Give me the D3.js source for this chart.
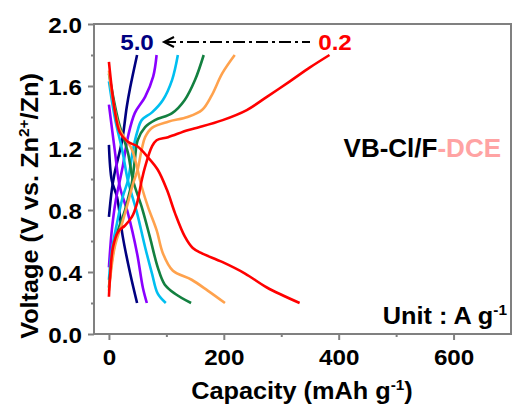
<!DOCTYPE html>
<html>
<head>
<meta charset="utf-8">
<script src="https://cdn.jsdelivr.net/npm/d3@7"></script>
<style>
body { margin: 0; background: #fff; }
text { font-family: "Liberation Sans", Arial, sans-serif; font-weight: bold; }
</style>
</head>
<body>
<svg id="chart" width="513" height="406"></svg>
<script>

// current densities (A g-1) and their colours
const rates = ["0.2", "0.5", "1", "2", "3", "5.0"]
const colors = ["#ff0000", "#ffa24d", "#138040", "#00bff0", "#8a00ff", "#000080"]

// [capacity mAh g-1, voltage V]
const charge02 = [[0,0.24],[2,0.37],[7,0.56],[16,0.66],[28,0.70],[40,0.755],[49,0.845],[57,0.99],[63,1.08],[75,1.21],[83,1.25],[103,1.27],[137,1.315],[158,1.335],[198,1.38],[240,1.445],[275,1.53],[315,1.63],[350,1.72],[384,1.80]]
const discharge02 = [[0,1.755],[10,1.445],[19,1.30],[33,1.24],[50,1.21],[68,1.14],[85,1.06],[101,0.93],[115,0.78],[132,0.63],[146,0.555],[162,0.52],[197,0.465],[237,0.39],[275,0.30],[332,0.20]]

const charge05 = [[0,0.28],[10,0.56],[23,0.715],[33,0.845],[42,0.97],[50,1.06],[57,1.19],[63,1.27],[75,1.33],[103,1.37],[137,1.40],[162,1.445],[179,1.54],[197,1.68],[219,1.80]]
const discharge05 = [[0,1.70],[7,1.51],[19,1.32],[40,1.19],[57,0.95],[68,0.82],[83,0.67],[94,0.52],[111,0.41],[144,0.35],[172,0.28],[202,0.20]]

const charge1 = [[0,0.30],[7,0.52],[16,0.67],[28,0.80],[37,0.93],[40,0.975],[45,1.12],[50,1.25],[63,1.335],[80,1.38],[110,1.425],[132,1.51],[150,1.64],[165,1.80]]
const discharge1 = [[0,1.68],[16,1.38],[33,1.17],[42,0.99],[57,0.82],[71,0.63],[85,0.43],[97,0.32],[115,0.26],[143,0.20]]

const charge2 = [[0,0.35],[5,0.54],[14,0.715],[24,0.885],[33,0.99],[42,1.19],[49,1.30],[57,1.38],[75,1.43],[94,1.51],[110,1.64],[120,1.80]]
const discharge2 = [[0,1.63],[10,1.40],[24,1.17],[33,0.99],[49,0.78],[63,0.56],[75,0.39],[85,0.26],[99,0.20]]

const charge3 = [[0,0.43],[5,0.67],[12,0.865],[19,0.99],[24,1.08],[33,1.27],[45,1.425],[63,1.53],[77,1.66],[83,1.80]]
const discharge3 = [[0,1.48],[10,1.19],[19,0.95],[33,0.78],[49,0.52],[59,0.30],[66,0.20]]

const charge5 = [[0,0.755],[5,0.93],[10,1.04],[23,1.25],[31,1.465],[37,1.59],[49,1.80]]
const discharge5 = [[0,1.22],[5,0.99],[14,0.885],[24,0.63],[37,0.39],[49,0.20]]

const xTicks = [0, 200, 400, 600]
const xMinor = [100, 300, 500]
const yTicks = [0, 0.4, 0.8, 1.2, 1.6, 2.0]
const yMinor = [0.2, 0.6, 1.0, 1.4, 1.8]

const curves = [
	[charge02, discharge02],
	[charge05, discharge05],
	[charge1, discharge1],
	[charge2, discharge2],
	[charge3, discharge3],
	[charge5, discharge5]
]

const stretch = 1.1
const frameColor = "#808080"

let svg = d3.select('#chart')

let plotLeft = 94, plotRight = 511, plotTop = 24, plotBottom = 334

let x = d3.scaleLinear().domain([-26, 700]).range([plotLeft, plotRight])
let y = d3.scaleLinear().domain([0, 2]).range([plotBottom, plotTop])

// frame
svg.append('rect')
.attr('x', plotLeft)
.attr('y', plotTop)
.attr('width', plotRight - plotLeft)
.attr('height', plotBottom - plotTop)
.attr('fill', 'none')
.attr('stroke', frameColor)
.attr('stroke-width', 2)

// axes
let yAxis = svg.append('g')
.attr('transform', `translate(${plotLeft},0)`)
.call(d3.axisLeft(y).tickValues(yTicks).tickFormat(d3.format('.1f')).tickSize(6).tickPadding(5))

let yAxisMinor = svg.append('g')
.attr('transform', `translate(${plotLeft},0)`)
.call(d3.axisLeft(y).tickValues(yMinor).tickFormat('').tickSize(3))

let xAxis = svg.append('g')
.attr('transform', `translate(0,${plotBottom})`)
.call(d3.axisBottom(x).tickValues(xTicks).tickFormat(d3.format('d')).tickSize(6).tickPadding(9))

let xAxisMinor = svg.append('g')
.attr('transform', `translate(0,${plotBottom})`)
.call(d3.axisBottom(x).tickValues(xMinor).tickFormat('').tickSize(3))

svg.selectAll('.domain').remove()
svg.selectAll('.tick line').attr('stroke', frameColor).attr('stroke-width', 2)
svg.selectAll('.tick text')
.attr('fill', '#000')
.style('font-size', '22px')
.style('font-family', '"Liberation Sans", Arial, sans-serif')
.style('font-weight', 'bold')

yAxis.selectAll('.tick text')
.attr('dy', '0.4em')
.attr('transform', `scale(${stretch},1)`)

xAxis.selectAll('.tick text')
.attr('transform', `scale(${stretch},1)`)

// curves
let line = d3.line()
.x(d => x(d[0]))
.y(d => y(d[1]))
.curve(d3.curveCatmullRom.alpha(0.5))

let curveGroup = svg.append('g')

curves.slice().reverse().map((pair, i) => {

	let color = colors[curves.length - 1 - i]

	pair.map(data => {
		curveGroup.append('path')
		.attr('d', line(data))
		.attr('fill', 'none')
		.attr('stroke', color)
		.attr('stroke-width', 2.6)
		.attr('stroke-linejoin', 'round')
	})
})

// text helper
function label(px, py, size, anchor, rotate) {
	return svg.append('text')
	.attr('transform', `translate(${px},${py}) rotate(${rotate || 0}) scale(${stretch},1)`)
	.attr('text-anchor', anchor)
	.style('font-size', size + 'px')
}

// axis titles
let xTitle = label(302, 399, 23, 'middle')
xTitle.append('tspan').text('Capacity (mAh g')
xTitle.append('tspan').attr('dy', -9).style('font-size', '14px').text('-1')
xTitle.append('tspan').attr('dy', 9).text(')')

let yTitle = label(38, 206, 23, 'middle', -90)
yTitle.append('tspan').text('Voltage (V vs. Zn')
yTitle.append('tspan').attr('dy', -9).style('font-size', '14px').text('2+')
yTitle.append('tspan').attr('dy', 9).text('/Zn)')

// rate labels and arrow
label(137, 50, 22, 'middle')
.attr('fill', colors[5])
.text(rates[5])

label(335, 50, 22, 'middle')
.attr('fill', colors[0])
.text(rates[0])

svg.append('line')
.attr('x1', 164)
.attr('x2', 310)
.attr('y1', 42)
.attr('y2', 42)
.attr('stroke', '#000')
.attr('stroke-width', 2)
.attr('stroke-dasharray', '12,4,3,4')

svg.append('path')
.attr('d', 'M174,37 L164,42 L174,47')
.attr('fill', 'none')
.attr('stroke', '#000')
.attr('stroke-width', 2)

// sample name
let sample = label(501, 157, 25, 'end')
.attr('transform', `translate(501,157) scale(1.04,1)`)
sample.append('tspan').attr('fill', '#000').text('VB-Cl/F')
sample.append('tspan').attr('fill', '#ffa3a3').text('-DCE')

// unit
let unit = label(507, 324, 23, 'end')
unit.append('tspan').text('Unit : A g')
unit.append('tspan').attr('dy', -9).style('font-size', '14px').text('-1')

</script>
</body>
</html>
